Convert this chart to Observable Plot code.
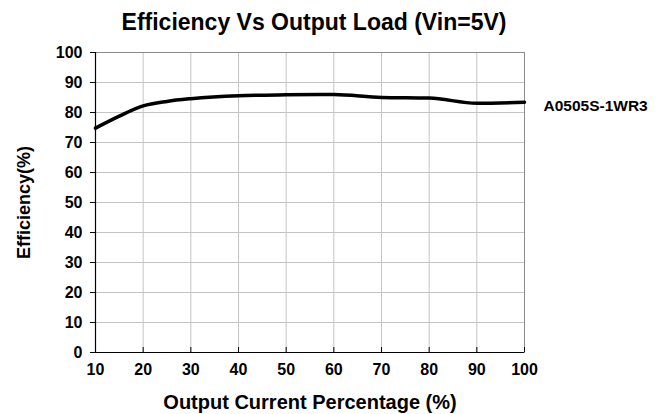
<!DOCTYPE html>
<html>
<head>
<meta charset="utf-8">
<script src="https://cdn.jsdelivr.net/npm/d3@7"></script>
<script src="https://cdn.jsdelivr.net/npm/@observablehq/plot@0.6"></script>
<style>
  html, body { margin: 0; padding: 0; background: #fff; }
  #title { height: 40px; box-sizing: border-box; padding-top: 4px; width: 628px; text-align: center; font: bold 23px "Liberation Sans", Arial, sans-serif; line-height: 36px; color: #000; }
  svg { display: block; }
</style>
</head>
<body>
<div id="title">Efficiency Vs Output Load (Vin=5V)</div>
<div id="chart"></div>
<script>
const loadPct = [10, 15, 20, 25, 30, 40, 50, 60, 70, 80, 90, 100];
const efficiency = [74.8, 78.8, 82.2, 83.7, 84.6, 85.6, 85.9, 86.0, 85.0, 84.8, 83.1, 83.4];
const seriesName = "A0505S-1WR3";
const xTicks = [10, 20, 30, 40, 50, 60, 70, 80, 90, 100];
const yTicks = [0, 10, 20, 30, 40, 50, 60, 70, 80, 90, 100];

const data = loadPct.map((x, i) => ({x, y: efficiency[i]}));
const last = data[data.length - 1];

const chart = Plot.plot({
  width: 662,
  height: 374,
  marginLeft: 95,
  marginRight: 138,
  marginTop: 12,
  marginBottom: 62,
  style: {fontFamily: "'Liberation Sans', Arial, sans-serif", fontWeight: "bold", fontSize: "16px", color: "#000"},
  x: {domain: [10, 100], ticks: xTicks},
  y: {domain: [0, 100], ticks: yTicks},
  marks: [
    Plot.gridX(xTicks, {stroke: "#c4c4c4", strokeOpacity: 1}),
    Plot.gridY(yTicks, {stroke: "#c4c4c4", strokeOpacity: 1}),
    Plot.frame({stroke: "#8a8a8a"}),
    Plot.axisY({ticks: yTicks, tickSize: 5, tickPadding: 8, label: "Efficiency(%)", labelAnchor: "center", labelArrow: "none", labelOffset: 78, fontSize: 16}),
    Plot.axisX({ticks: xTicks, tickSize: -5, tickPadding: 16, label: "Output Current Percentage (%)", labelAnchor: "center", labelArrow: "none", labelOffset: 56, fontSize: 16}),
    Plot.ruleX([10], {stroke: "#000", strokeWidth: 1.2}),
    Plot.ruleY([0], {stroke: "#000", strokeWidth: 1.2}),
    Plot.line(data, {x: "x", y: "y", stroke: "#000", strokeWidth: 3.5, curve: "monotone-x"}),
    Plot.text([last], {x: "x", y: "y", text: () => seriesName, textAnchor: "start", dx: 19, dy: 4, fontSize: 15.5, fontWeight: "bold"})
  ]
});
document.getElementById("chart").appendChild(chart);
chart.querySelectorAll('g[aria-label="y-axis label"] text').forEach(t => t.setAttribute("font-size", "18"));
chart.querySelectorAll('g[aria-label="x-axis label"] text').forEach(t => t.setAttribute("font-size", "20"));
</script>
</body>
</html>
